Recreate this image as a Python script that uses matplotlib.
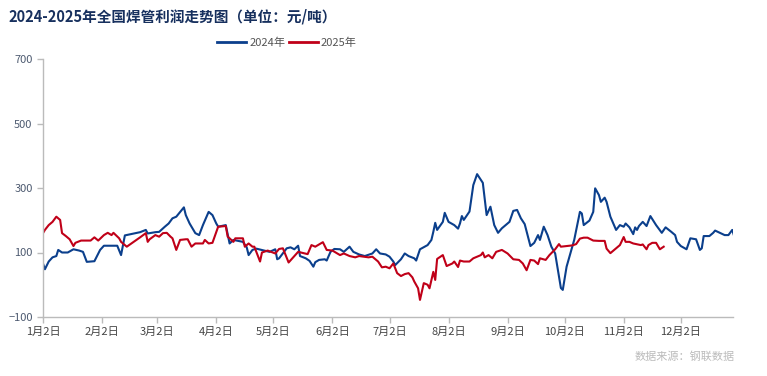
import matplotlib
matplotlib.use("Agg")
import matplotlib.pyplot as plt
import pandas as pd
from matplotlib.lines import Line2D

plt.rcParams['font.family'] = ['Noto Sans CJK SC', 'DejaVu Sans']

title = "2024-2025年全国焊管利润走势图（单位：元/吨）"
source = "数据来源：钢联数据"
series_names = ["2024年", "2025年"]
tick_dates = ["01-02", "02-02", "03-02", "04-02", "05-02", "06-02",
              "07-02", "08-02", "09-02", "10-02", "11-02", "12-02"]
tick_labels = ["1月2日", "2月2日", "3月2日", "4月2日", "5月2日", "6月2日",
               "7月2日", "8月2日", "9月2日", "10月2日", "11月2日", "12月2日"]
y_ticks = [-100, 100, 300, 500, 700]

dates_2024 = ["01-02","01-03","01-05","01-07","01-09","01-10","01-12","01-15","01-18","01-21",
 "01-23","01-25","01-29","02-01","02-03","02-10","02-12","02-14","02-22","02-25",
 "02-26","03-01","03-03","03-06","03-08","03-10","03-12","03-16","03-17","03-19",
 "03-22","03-24","03-26","03-29","03-31","04-02","04-03","04-07","04-09","04-11",
 "04-16","04-18","04-19","04-21","04-23","04-30","05-03","05-04","05-05","05-09",
 "05-11","05-13","05-15","05-16","05-19","05-21","05-23","05-24","05-26","05-29",
 "05-30","06-01","06-03","06-06","06-08","06-11","06-13","06-16","06-19","06-23",
 "06-25","06-27","06-30","07-02","07-04","07-05","07-08","07-10","07-12","07-15",
 "07-16","07-18","07-22","07-24","07-25","07-26","07-27","07-30","07-31","08-02",
 "08-05","08-07","08-08","08-09","08-10","08-13","08-15","08-17","08-20","08-22",
 "08-24","08-26","08-28","08-30","09-03","09-05","09-07","09-09","09-11","09-14",
 "09-16","09-18","09-19","09-21","09-23","09-25","09-27","09-30","10-01","10-03",
 "10-07","10-10","10-11","10-12","10-15","10-17","10-18","10-20","10-21","10-23",
 "10-24","10-26","10-29","10-31","11-02","11-03","11-05","11-07","11-08","11-09",
 "11-10","11-12","11-14","11-16","11-19","11-22","11-24","11-27","11-29","11-30",
 "12-02","12-05","12-07","12-10","12-12","12-13","12-14","12-17","12-19","12-20",
 "12-25","12-27","12-29","12-30"]
values_2024 = [66,48,72,85,89,108,100,100,110,106,
 102,71,73,108,121,121,92,153,163,170,
 159,163,164,180,190,206,211,240,216,190,
 160,154,185,226,216,190,180,185,128,139,
 133,116,92,108,112,102,110,79,82,113,
 116,110,121,89,82,74,56,70,77,79,
 75,102,111,110,102,118,102,94,89,97,
 110,97,94,87,72,61,79,97,89,82,
 75,110,123,139,164,192,170,195,223,195,
 185,174,190,213,201,227,309,343,316,216,
 242,185,161,175,195,229,232,206,188,120,
 130,154,139,180,154,118,97,-10,-16,56,
 139,226,221,185,199,226,299,278,257,270,
 257,211,170,185,180,190,178,157,178,170,
 182,195,182,213,185,161,178,164,154,133,
 120,110,144,141,108,113,151,151,161,168,
 154,154,170,151]

dates_2025 = ["01-02","01-03","01-05","01-07","01-09","01-11","01-12","01-14","01-16","01-18",
 "01-19","01-22","01-27","01-29","01-31","02-03","02-05","02-07","02-08","02-11",
 "02-12","02-15","02-22","02-25","02-26","02-27","03-01","03-03","03-05","03-07",
 "03-09","03-10","03-12","03-14","03-17","03-18","03-20","03-22","03-26","03-27",
 "03-29","03-31","04-03","04-07","04-08","04-09","04-11","04-12","04-16","04-17",
 "04-19","04-21","04-22","04-25","04-26","04-29","05-03","05-05","05-07","05-10",
 "05-15","05-20","05-22","05-24","05-26","05-28","05-30","06-02","06-04","06-06",
 "06-08","06-11","06-14","06-16","06-21","06-23","06-26","06-28","06-30","07-02",
 "07-04","07-06","07-08","07-10","07-12","07-14","07-15","07-17","07-18","07-20",
 "07-22","07-23","07-25","07-26","07-27","07-30","08-01","08-04","08-05","08-07",
 "08-08","08-10","08-13","08-15","08-19","08-20","08-21","08-23","08-25","08-27",
 "08-30","09-02","09-05","09-08","09-10","09-12","09-14","09-16","09-18","09-19",
 "09-22","09-24","09-27","09-29","09-30","10-06","10-08","10-10","10-12","10-14",
 "10-17","10-20","10-23","10-24","10-26","10-28","10-30","10-31","11-02","11-03",
 "11-05","11-07","11-11","11-12","11-14","11-15","11-17","11-19","11-21","11-23"]
values_2025 = [160,170,185,195,211,201,160,151,141,120,
 130,137,137,147,137,154,161,154,161,144,
 133,118,147,160,133,141,154,149,160,161,
 149,144,108,139,141,141,118,128,128,139,
 128,130,180,182,149,144,133,144,144,118,
 128,118,118,72,100,106,97,111,113,69,
 102,95,123,118,125,132,108,106,99,92,
 97,89,85,89,85,87,72,54,56,51,
 66,36,27,33,36,23,10,-11,-47,5,
 0,-11,40,15,80,92,58,66,72,55,
 75,72,72,82,92,100,85,92,82,102,
 108,97,79,77,66,45,77,75,64,82,
 77,92,110,126,118,122,126,143,146,146,
 137,136,136,112,98,108,118,123,148,133,
 133,128,123,125,110,123,130,130,110,118]

origin = pd.Timestamp("2024-01-02")
def to_days(ds):
    return [(pd.Timestamp("2024-" + d) - origin).days for d in ds]

fig = plt.figure(figsize=(7.67, 3.76), dpi=100)
ax = fig.add_axes([43/767, 1-317/376, (733-43)/767, (317-59)/376])

c24 = "#0b3f8c"
c25 = "#c00018"
ax.plot(to_days(dates_2024), values_2024, color=c24, lw=1.5, solid_joinstyle='round')
ax.plot(to_days(dates_2025), values_2025, color=c25, lw=1.5, solid_joinstyle='round')

ax.set_xlim(0, 362.4)
ax.set_ylim(-100, 700)
ax.set_yticks(y_ticks)
ax.set_xticks(to_days(tick_dates))
ax.set_xticklabels(tick_labels)

for s in ["top", "right"]:
    ax.spines[s].set_visible(False)
for s in ["left", "bottom"]:
    ax.spines[s].set_color("#bbbbbb")
    ax.spines[s].set_linewidth(1.0)
ax.tick_params(axis='y', colors="#bbbbbb", labelcolor="#4d5a70", labelsize=8, length=4, width=1)
ax.tick_params(axis='x', colors="#bbbbbb", labelcolor="#444444", labelsize=8, length=4, width=1, pad=3)

fig.text(8/767, 1-16/376, title, fontsize=10.5, fontweight='bold', color="#17305e",
         ha='left', va='center')

handles = [Line2D([0], [0], color=c24, lw=2), Line2D([0], [0], color=c25, lw=2)]
fig.legend(handles, series_names, loc='center', bbox_to_anchor=(287/767, 1-43/376),
           ncol=2, frameon=False, fontsize=8, handlelength=2.6, handletextpad=0.3,
           columnspacing=0.3, labelcolor="#555555", borderpad=0)

fig.text(735/767, 1-357/376, source, fontsize=8, color="#bbbbbb", ha='right', va='center')

fig.savefig("out.png", dpi=100)
